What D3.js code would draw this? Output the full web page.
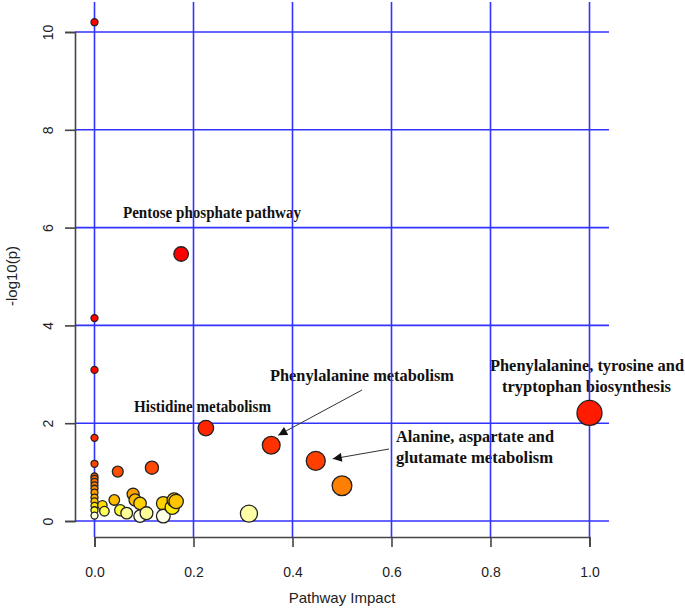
<!DOCTYPE html>
<html><head><meta charset="utf-8">
<script src="https://cdn.jsdelivr.net/npm/d3@7"></script>
<style>body{margin:0;background:#fff}svg{display:block}</style>
</head><body>
<svg id="c" width="685" height="611"></svg>
<script>
// Pathway impact (x) and -log10(p) (y) for each pathway
const impact = [0,0,0,0,0,0,0,0,0,0,0,0,0,0,0,0,
  0.175,0.225,0.357,0.447,0.500,1.0,0.312,0.116,0.047,
  0.040,0.016,0.020,0.052,0.065,0.078,0.082,0.092,0.105,0.092,0.139,0.139,0.161,0.165,0.157];
const negLogP = [10.2,4.15,3.09,1.70,1.17,0.91,0.86,0.80,0.73,0.66,0.58,0.48,0.40,0.31,0.22,0.11,
  5.46,1.90,1.55,1.23,0.72,2.21,0.15,1.09,1.01,
  0.43,0.32,0.20,0.22,0.16,0.55,0.43,0.36,0.16,0.10,0.36,0.10,0.43,0.40,0.28];
const xTicks = [0,0.2,0.4,0.6,0.8,1.0];
const yTicks = [0,2,4,6,8,10];
const labels = [
  {lines:["Pentose phosphate pathway"], i:16},
  {lines:["Histidine metabolism"], i:17},
  {lines:["Phenylalanine metabolism"], i:18},
  {lines:["Alanine, aspartate and","glutamate metabolism"], i:19},
  {lines:["Phenylalanine, tyrosine and","tryptophan biosynthesis"], i:21}
];

const svg = d3.select("#c");
const x = d3.scaleLinear().domain([0,1]).range([94.5,589.5]);
const y = d3.scaleLinear().domain([0,10]).range([521,32]);
const r = d3.scaleSqrt().domain([0,1]).range([3.5,12.5]);
const col = d3.scaleLinear()
  .domain([0.1,0.16,0.22,0.3,0.4,0.5,0.72,1.0,1.3,2.0,3.0])
  .range(["#FFFFE6","#FFFF99","#FFFF33","#FFE600","#FFC400","#FFA800","#FF8000","#FF5000","#FF3a00","#FF2200","#FF0000"])
  .clamp(true);

// annotation text (drawn under grid)
const serif = "'Liberation Serif','Times New Roman',serif";
const lblPos = [
  {x:123, y:218, w:[178]},
  {x:134, y:412, w:[137]},
  {x:270, y:381, w:[184]},
  {x:396, y:442, w:[158,157]},
  {x:490, y:371, w:[194,169], dx:[0,12]}
];
labels.forEach((l,k)=>{
  const p = lblPos[k];
  const t = svg.append("text").attr("font-family",serif).attr("font-weight","bold")
    .attr("font-size",16).attr("fill","#111");
  l.lines.forEach((s,j)=>t.append("tspan")
    .attr("x",p.x+(p.dx?p.dx[j]:0)).attr("y",p.y+j*21)
    .attr("textLength",p.w[j]).attr("lengthAdjust","spacingAndGlyphs").text(s));
});

// grid
const grid = svg.append("g").attr("stroke","#3333ff").attr("stroke-width",1.6);
grid.selectAll(".v").data(xTicks).join("line")
  .attr("x1",d=>x(d)).attr("x2",d=>x(d)).attr("y1",2).attr("y2",537);
grid.selectAll(".h").data(yTicks).join("line")
  .attr("x1",75).attr("x2",609).attr("y1",d=>y(d)).attr("y2",d=>y(d));

// axes
const sans = "'Liberation Sans',Arial,sans-serif";
const xa = svg.append("g").attr("transform","translate(0,537)")
  .call(d3.axisBottom(x).tickValues(xTicks).tickFormat(d3.format(".1f")).tickSizeOuter(0).tickSize(10).tickPadding(20));
const ya = svg.append("g").attr("transform","translate(75,0)")
  .call(d3.axisLeft(y).tickValues(yTicks).tickSizeOuter(0).tickSize(10).tickPadding(0));
[xa,ya].forEach(a=>{
  a.select(".domain").attr("stroke","#444").attr("stroke-width",1.6);
  a.selectAll(".tick line").attr("stroke","#444").attr("stroke-width",1.6);
  a.selectAll("text").attr("font-family",sans).attr("font-size",14).attr("fill","#222");
});
ya.selectAll(".tick text").attr("text-anchor","middle").attr("x",0).attr("dy",0)
  .attr("transform","translate(-22,0) rotate(-90)");
svg.append("text").attr("x",342).attr("y",603).attr("text-anchor","middle")
  .attr("font-family",sans).attr("font-size",15).attr("fill","#222").text("Pathway Impact");
svg.append("text").attr("transform","translate(17,276) rotate(-90)").attr("text-anchor","middle")
  .attr("font-family",sans).attr("font-size",15).attr("fill","#222").text("-log10(p)");

// points
const idx = d3.range(impact.length).sort((a,b)=>impact[a]-impact[b]);
svg.append("g").selectAll("circle").data(idx).join("circle")
  .attr("cx",i=>x(impact[i])).attr("cy",i=>y(negLogP[i])).attr("r",i=>r(impact[i]))
  .attr("fill",i=>col(negLogP[i])).attr("stroke","#222").attr("stroke-width",1.3);

// arrows
svg.append("defs").append("marker").attr("id","ah").attr("viewBox","0 0 10 10")
  .attr("refX",10).attr("refY",5).attr("markerWidth",12).attr("markerHeight",9)
  .attr("markerUnits","userSpaceOnUse").attr("orient","auto")
  .append("path").attr("d","M0,0L10,5L0,10Z").attr("fill","#111");
const arrows = [
  {from:[362,390], to:[i=>x(impact[i])+7, i=>y(negLogP[i])-10], i:18},
  {from:[389,449], to:[i=>x(impact[i])+17, i=>y(negLogP[i])-2], i:19}
];
arrows.forEach(a=>{
  svg.append("line").attr("x1",a.from[0]).attr("y1",a.from[1])
    .attr("x2",a.to[0](a.i)).attr("y2",a.to[1](a.i))
    .attr("stroke","#333").attr("stroke-width",1).attr("marker-end","url(#ah)");
});
</script>
</body></html>
